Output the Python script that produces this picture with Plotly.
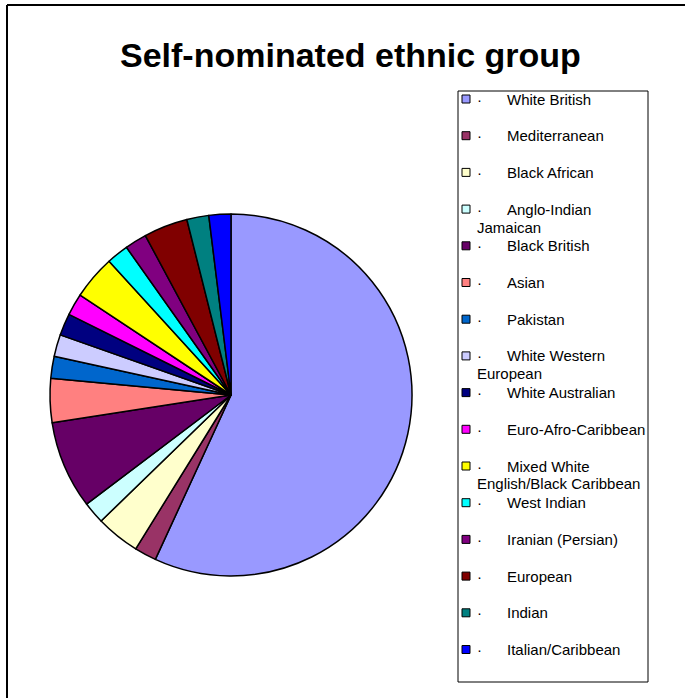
import plotly.graph_objects as go

# Respondent counts per self-nominated ethnic group
groups = [
    "White British", "Mediterranean", "Black African", "Anglo-Indian\nJamaican",
    "Black British", "Asian", "Pakistan", "White Western\nEuropean",
    "White Australian", "Euro-Afro-Caribbean", "Mixed White\nEnglish/Black Caribbean",
    "West Indian", "Iranian (Persian)", "European", "Indian", "Italian/Caribbean",
]
counts = [29, 1, 2, 1, 4, 2, 1, 1, 1, 1, 2, 1, 1, 2, 1, 1]
colors = [
    "#9999FF", "#993366", "#FFFFCC", "#CCFFFF", "#660066", "#FF8080", "#0066CC",
    "#CCCCFF", "#000080", "#FF00FF", "#FFFF00", "#00FFFF", "#800080", "#800000",
    "#008080", "#0000FF",
]

W, H = 685, 698
FONT = "Liberation Sans, Arial, sans-serif"


def px(x):
    return x / W


def py(y):
    return 1 - y / H


fig = go.Figure()
fig.add_trace(go.Pie(
    labels=[g.replace("\n", " ") for g in groups],
    values=counts,
    marker=dict(colors=colors, line=dict(color="black", width=1.5)),
    sort=False,
    direction="clockwise",
    rotation=0,
    textinfo="none",
    showlegend=False,
    domain=dict(x=[px(50), px(412)], y=[py(576), py(214)]),
))

shapes = [
    # chart frame
    dict(type="line", xref="paper", yref="paper", x0=px(7), x1=1.02, y0=py(5), y1=py(5),
         line=dict(color="black", width=2)),
    dict(type="line", xref="paper", yref="paper", x0=px(7), x1=px(7), y0=py(5), y1=-0.02,
         line=dict(color="black", width=2)),
    # legend box
    dict(type="rect", xref="paper", yref="paper", x0=px(458), x1=px(648), y0=py(682), y1=py(91),
         line=dict(color="black", width=1), fillcolor="rgba(0,0,0,0)"),
]

annotations = [
    dict(text="<b>Self-nominated ethnic group</b>", xref="paper", yref="paper",
         x=px(350), y=py(55), xanchor="center", yanchor="middle", showarrow=False,
         font=dict(family=FONT, size=34, color="black")),
]

step = 36.7
for i, (g, c) in enumerate(zip(groups, colors)):
    yc = 99 + i * step
    shapes.append(dict(type="rect", xref="paper", yref="paper",
                       x0=px(462), x1=px(470), y0=py(yc + 4), y1=py(yc - 4),
                       fillcolor=c, line=dict(color="black", width=1)))
    annotations.append(dict(text="·", xref="paper", yref="paper", x=px(475), y=py(yc),
                            xanchor="left", yanchor="middle", showarrow=False,
                            font=dict(family=FONT, size=15, color="black")))
    parts = g.split("\n")
    annotations.append(dict(text=parts[0], xref="paper", yref="paper", x=px(505), y=py(yc),
                            xanchor="left", yanchor="middle", showarrow=False,
                            font=dict(family=FONT, size=15, color="black")))
    if len(parts) > 1:
        annotations.append(dict(text=parts[1], xref="paper", yref="paper", x=px(475),
                                y=py(yc + 18), xanchor="left", yanchor="middle",
                                showarrow=False,
                                font=dict(family=FONT, size=15, color="black")))

fig.update_layout(
    width=W, height=H, autosize=False,
    margin=dict(l=0, r=0, t=0, b=0),
    paper_bgcolor="white", plot_bgcolor="white",
    shapes=shapes, annotations=annotations,
    showlegend=False,
)

fig.write_html("out.html")
